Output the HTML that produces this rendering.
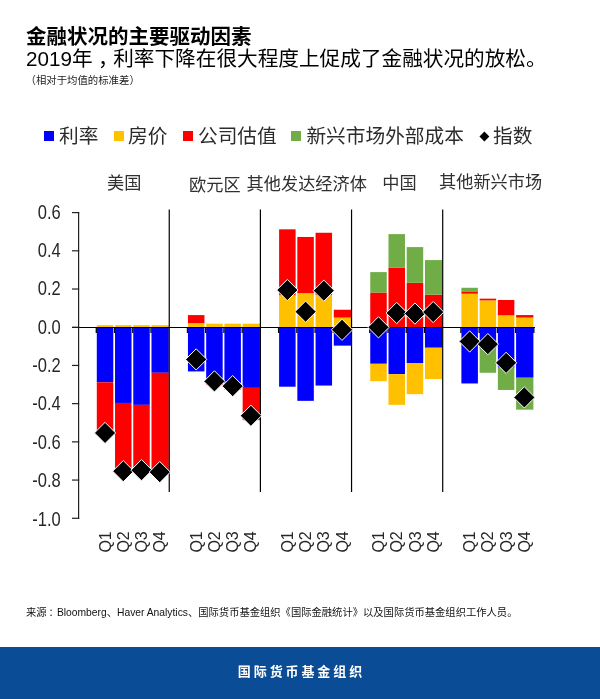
<!DOCTYPE html>
<html lang="zh"><head><meta charset="utf-8"><title>金融状况的主要驱动因素</title>
<style>
html,body{margin:0;padding:0;background:#fff;}
body{width:600px;height:699px;position:relative;overflow:hidden;font-family:"Liberation Sans","Noto Sans CJK SC",sans-serif;color:#000;}
.t{position:absolute;white-space:nowrap;line-height:1;}
#title{left:26px;top:27px;font-size:20.5px;font-weight:bold;}
#sub{left:26px;top:49px;font-size:20.65px;}
#note{left:25.5px;top:75.5px;font-size:10.4px;color:#222;}
.lg{font-size:19.7px;top:127px;color:#2c2c2c;}
.sq{position:absolute;top:131px;width:10px;height:10px;}
.gl{font-size:17.2px;color:#303030;}
#src{left:26px;top:608px;font-size:10.3px;color:#111;}
#foot{position:absolute;left:0;top:647.4px;width:600px;height:52px;background:#0a4c95;}
#foot span{position:absolute;left:0;width:600px;text-align:center;top:18px;line-height:1;color:#fff;font-weight:bold;font-size:13px;letter-spacing:2.9px;text-indent:2.9px;}
svg{position:absolute;left:0;top:0;}
svg text{font-family:"Liberation Sans",sans-serif;}
</style></head><body>
<div class="t" id="title">金融状况的主要驱动因素</div>
<div class="t" id="sub">2019年<span style="position:relative;left:5.5px;margin-right:0px">，</span>利率下降在很大程度上促成了金融状况的放松。</div>
<div class="t" id="note">（相对于均值的标准差）</div>

<div class="sq" style="left:44px;background:#0000FF"></div><div class="t lg" style="left:59px">利率</div>
<div class="sq" style="left:113.6px;background:#FFC000"></div><div class="t lg" style="left:128px">房价</div>
<div class="sq" style="left:183.2px;background:#FF0000"></div><div class="t lg" style="left:198px">公司估值</div>
<div class="sq" style="left:291.2px;background:#70AD47"></div><div class="t lg" style="left:306.4px">新兴市场外部成本</div>
<div class="sq" style="left:480.6px;top:132.8px;width:6.8px;height:6.8px;background:#000;transform:rotate(45deg)"></div><div class="t lg" style="left:493px">指数</div>

<div class="t gl" style="left:107px;top:175px">美国</div>
<div class="t gl" style="left:189px;top:177.3px">欧元区</div>
<div class="t gl" style="left:246.6px;top:176.4px">其他发达经济体</div>
<div class="t gl" style="left:382.2px;top:175.2px">中国</div>
<div class="t gl" style="left:439px;top:174px">其他新兴市场</div>

<svg width="600" height="699" viewBox="0 0 600 699">
<rect x="96.80" y="325.21" width="16.50" height="2.29" fill="#FFC000"/>
<rect x="96.80" y="327.50" width="16.50" height="54.82" fill="#0000FF"/>
<rect x="96.80" y="382.32" width="16.50" height="52.14" fill="#FF0000"/>
<rect x="115.03" y="325.21" width="16.50" height="2.29" fill="#FFC000"/>
<rect x="115.03" y="327.50" width="16.50" height="75.45" fill="#0000FF"/>
<rect x="115.03" y="402.94" width="16.50" height="69.72" fill="#FF0000"/>
<rect x="133.26" y="325.21" width="16.50" height="2.29" fill="#FFC000"/>
<rect x="133.26" y="327.50" width="16.50" height="77.36" fill="#0000FF"/>
<rect x="133.26" y="404.86" width="16.50" height="66.85" fill="#FF0000"/>
<rect x="151.49" y="325.21" width="17.30" height="2.29" fill="#FFC000"/>
<rect x="151.49" y="327.50" width="17.30" height="45.27" fill="#0000FF"/>
<rect x="151.49" y="372.77" width="17.30" height="100.85" fill="#FF0000"/>
<rect x="187.95" y="323.11" width="16.50" height="4.39" fill="#FFC000"/>
<rect x="187.95" y="315.08" width="16.50" height="8.02" fill="#FF0000"/>
<rect x="187.95" y="327.50" width="16.50" height="43.93" fill="#0000FF"/>
<rect x="206.18" y="323.68" width="16.50" height="3.82" fill="#FFC000"/>
<rect x="206.18" y="327.50" width="16.50" height="55.39" fill="#0000FF"/>
<rect x="206.18" y="382.89" width="16.50" height="1.91" fill="#FF0000"/>
<rect x="224.41" y="323.68" width="16.50" height="3.82" fill="#FFC000"/>
<rect x="224.41" y="327.50" width="16.50" height="60.16" fill="#0000FF"/>
<rect x="224.41" y="387.67" width="16.50" height="1.91" fill="#FF0000"/>
<rect x="242.64" y="323.68" width="17.30" height="3.82" fill="#FFC000"/>
<rect x="242.64" y="327.50" width="17.30" height="60.36" fill="#0000FF"/>
<rect x="242.64" y="387.86" width="17.30" height="32.28" fill="#FF0000"/>
<rect x="279.10" y="295.22" width="16.50" height="32.28" fill="#FFC000"/>
<rect x="279.10" y="229.33" width="16.50" height="65.89" fill="#FF0000"/>
<rect x="279.10" y="327.50" width="16.50" height="59.21" fill="#0000FF"/>
<rect x="297.33" y="293.12" width="16.50" height="34.38" fill="#FFC000"/>
<rect x="297.33" y="236.97" width="16.50" height="56.15" fill="#FF0000"/>
<rect x="297.33" y="327.50" width="16.50" height="73.34" fill="#0000FF"/>
<rect x="315.56" y="295.03" width="16.50" height="32.47" fill="#FFC000"/>
<rect x="315.56" y="232.76" width="16.50" height="62.27" fill="#FF0000"/>
<rect x="315.56" y="327.50" width="16.50" height="58.06" fill="#0000FF"/>
<rect x="333.79" y="317.57" width="17.30" height="9.93" fill="#FFC000"/>
<rect x="333.79" y="309.74" width="17.30" height="7.83" fill="#FF0000"/>
<rect x="333.79" y="327.50" width="17.30" height="18.14" fill="#0000FF"/>
<rect x="370.25" y="292.55" width="16.50" height="34.95" fill="#FF0000"/>
<rect x="370.25" y="272.11" width="16.50" height="20.44" fill="#70AD47"/>
<rect x="370.25" y="327.50" width="16.50" height="36.29" fill="#0000FF"/>
<rect x="370.25" y="363.79" width="16.50" height="17.38" fill="#FFC000"/>
<rect x="388.48" y="267.53" width="16.50" height="59.97" fill="#FF0000"/>
<rect x="388.48" y="234.10" width="16.50" height="33.42" fill="#70AD47"/>
<rect x="388.48" y="327.50" width="16.50" height="46.60" fill="#0000FF"/>
<rect x="388.48" y="374.10" width="16.50" height="30.75" fill="#FFC000"/>
<rect x="406.71" y="282.81" width="16.50" height="44.69" fill="#FF0000"/>
<rect x="406.71" y="247.09" width="16.50" height="35.72" fill="#70AD47"/>
<rect x="406.71" y="327.50" width="16.50" height="35.53" fill="#0000FF"/>
<rect x="406.71" y="363.03" width="16.50" height="31.13" fill="#FFC000"/>
<rect x="424.94" y="294.65" width="17.30" height="32.85" fill="#FF0000"/>
<rect x="424.94" y="260.08" width="17.30" height="34.57" fill="#70AD47"/>
<rect x="424.94" y="327.50" width="17.30" height="20.25" fill="#0000FF"/>
<rect x="424.94" y="347.75" width="17.30" height="31.32" fill="#FFC000"/>
<rect x="461.40" y="293.69" width="16.50" height="33.81" fill="#FFC000"/>
<rect x="461.40" y="291.40" width="16.50" height="2.29" fill="#FF0000"/>
<rect x="461.40" y="287.77" width="16.50" height="3.63" fill="#70AD47"/>
<rect x="461.40" y="327.50" width="16.50" height="55.96" fill="#0000FF"/>
<rect x="479.63" y="300.38" width="16.50" height="27.12" fill="#FFC000"/>
<rect x="479.63" y="298.66" width="16.50" height="1.72" fill="#FF0000"/>
<rect x="479.63" y="327.50" width="16.50" height="21.01" fill="#0000FF"/>
<rect x="479.63" y="348.51" width="16.50" height="24.26" fill="#70AD47"/>
<rect x="497.86" y="315.28" width="16.50" height="12.22" fill="#FFC000"/>
<rect x="497.86" y="300.00" width="16.50" height="15.28" fill="#FF0000"/>
<rect x="497.86" y="327.50" width="16.50" height="40.11" fill="#0000FF"/>
<rect x="497.86" y="367.61" width="16.50" height="22.35" fill="#70AD47"/>
<rect x="516.09" y="317.57" width="17.30" height="9.93" fill="#FFC000"/>
<rect x="516.09" y="315.08" width="17.30" height="2.48" fill="#FF0000"/>
<rect x="516.09" y="327.50" width="17.30" height="50.23" fill="#0000FF"/>
<rect x="516.09" y="377.73" width="17.30" height="31.90" fill="#70AD47"/>
<line x1="72" y1="327.5" x2="535" y2="327.5" stroke="#000" stroke-width="1.2"/>
<line x1="96.30" y1="327.5" x2="96.30" y2="333.0" stroke="#000" stroke-width="1.3"/>
<line x1="114.53" y1="327.5" x2="114.53" y2="333.0" stroke="#000" stroke-width="1.3"/>
<line x1="132.76" y1="327.5" x2="132.76" y2="333.0" stroke="#000" stroke-width="1.3"/>
<line x1="150.99" y1="327.5" x2="150.99" y2="333.0" stroke="#000" stroke-width="1.3"/>
<line x1="187.45" y1="327.5" x2="187.45" y2="333.0" stroke="#000" stroke-width="1.3"/>
<line x1="205.68" y1="327.5" x2="205.68" y2="333.0" stroke="#000" stroke-width="1.3"/>
<line x1="223.91" y1="327.5" x2="223.91" y2="333.0" stroke="#000" stroke-width="1.3"/>
<line x1="242.14" y1="327.5" x2="242.14" y2="333.0" stroke="#000" stroke-width="1.3"/>
<line x1="278.60" y1="327.5" x2="278.60" y2="333.0" stroke="#000" stroke-width="1.3"/>
<line x1="296.83" y1="327.5" x2="296.83" y2="333.0" stroke="#000" stroke-width="1.3"/>
<line x1="315.06" y1="327.5" x2="315.06" y2="333.0" stroke="#000" stroke-width="1.3"/>
<line x1="333.29" y1="327.5" x2="333.29" y2="333.0" stroke="#000" stroke-width="1.3"/>
<line x1="369.75" y1="327.5" x2="369.75" y2="333.0" stroke="#000" stroke-width="1.3"/>
<line x1="387.98" y1="327.5" x2="387.98" y2="333.0" stroke="#000" stroke-width="1.3"/>
<line x1="406.21" y1="327.5" x2="406.21" y2="333.0" stroke="#000" stroke-width="1.3"/>
<line x1="424.44" y1="327.5" x2="424.44" y2="333.0" stroke="#000" stroke-width="1.3"/>
<line x1="460.90" y1="327.5" x2="460.90" y2="333.0" stroke="#000" stroke-width="1.3"/>
<line x1="479.13" y1="327.5" x2="479.13" y2="333.0" stroke="#000" stroke-width="1.3"/>
<line x1="497.36" y1="327.5" x2="497.36" y2="333.0" stroke="#000" stroke-width="1.3"/>
<line x1="515.59" y1="327.5" x2="515.59" y2="333.0" stroke="#000" stroke-width="1.3"/>
<line x1="533.82" y1="327.5" x2="533.82" y2="333.0" stroke="#000" stroke-width="1.3"/>
<line x1="169.25" y1="209.5" x2="169.25" y2="492" stroke="#000" stroke-width="1.2"/>
<line x1="260.40" y1="209.5" x2="260.40" y2="492" stroke="#000" stroke-width="1.2"/>
<line x1="351.55" y1="209.5" x2="351.55" y2="492" stroke="#000" stroke-width="1.2"/>
<line x1="442.70" y1="209.5" x2="442.70" y2="492" stroke="#000" stroke-width="1.2"/>
<line x1="78.6" y1="212" x2="78.6" y2="518.9" stroke="#222" stroke-width="1.2"/>
<line x1="72" y1="212.60" x2="79.2" y2="212.60" stroke="#222" stroke-width="1.2"/>
<text transform="translate(60.8,218.50) scale(0.835,1)" text-anchor="end" font-size="19.8" fill="#262626">0.6</text>
<line x1="72" y1="250.81" x2="79.2" y2="250.81" stroke="#222" stroke-width="1.2"/>
<text transform="translate(60.8,256.88) scale(0.835,1)" text-anchor="end" font-size="19.8" fill="#262626">0.4</text>
<line x1="72" y1="289.02" x2="79.2" y2="289.02" stroke="#222" stroke-width="1.2"/>
<text transform="translate(60.8,295.25) scale(0.835,1)" text-anchor="end" font-size="19.8" fill="#262626">0.2</text>
<line x1="72" y1="327.23" x2="79.2" y2="327.23" stroke="#222" stroke-width="1.2"/>
<text transform="translate(60.8,333.62) scale(0.835,1)" text-anchor="end" font-size="19.8" fill="#262626">0.0</text>
<line x1="72" y1="365.44" x2="79.2" y2="365.44" stroke="#222" stroke-width="1.2"/>
<text transform="translate(60.8,372.00) scale(0.835,1)" text-anchor="end" font-size="19.8" fill="#262626">-0.2</text>
<line x1="72" y1="403.65" x2="79.2" y2="403.65" stroke="#222" stroke-width="1.2"/>
<text transform="translate(60.8,410.38) scale(0.835,1)" text-anchor="end" font-size="19.8" fill="#262626">-0.4</text>
<line x1="72" y1="441.86" x2="79.2" y2="441.86" stroke="#222" stroke-width="1.2"/>
<text transform="translate(60.8,448.75) scale(0.835,1)" text-anchor="end" font-size="19.8" fill="#262626">-0.6</text>
<line x1="72" y1="480.07" x2="79.2" y2="480.07" stroke="#222" stroke-width="1.2"/>
<text transform="translate(60.8,487.12) scale(0.835,1)" text-anchor="end" font-size="19.8" fill="#262626">-0.8</text>
<line x1="72" y1="518.28" x2="79.2" y2="518.28" stroke="#222" stroke-width="1.2"/>
<text transform="translate(60.8,525.50) scale(0.835,1)" text-anchor="end" font-size="19.8" fill="#262626">-1.0</text>
<path d="M105.05 422.35 L115.65 432.95 L105.05 443.55 L94.45 432.95 Z" fill="#000" stroke="#fff" stroke-width="1"/>
<path d="M123.28 460.55 L133.88 471.15 L123.28 481.75 L112.68 471.15 Z" fill="#000" stroke="#fff" stroke-width="1"/>
<path d="M141.51 459.59 L152.11 470.19 L141.51 480.79 L130.91 470.19 Z" fill="#000" stroke="#fff" stroke-width="1"/>
<path d="M159.74 461.50 L170.34 472.11 L159.74 482.71 L149.14 472.11 Z" fill="#000" stroke="#fff" stroke-width="1"/>
<path d="M196.20 348.81 L206.80 359.41 L196.20 370.01 L185.60 359.41 Z" fill="#000" stroke="#fff" stroke-width="1"/>
<path d="M214.43 370.78 L225.03 381.38 L214.43 391.98 L203.83 381.38 Z" fill="#000" stroke="#fff" stroke-width="1"/>
<path d="M232.66 375.55 L243.26 386.15 L232.66 396.75 L222.06 386.15 Z" fill="#000" stroke="#fff" stroke-width="1"/>
<path d="M250.89 405.16 L261.49 415.76 L250.89 426.36 L240.29 415.76 Z" fill="#000" stroke="#fff" stroke-width="1"/>
<path d="M287.35 279.48 L297.95 290.08 L287.35 300.68 L276.75 290.08 Z" fill="#000" stroke="#fff" stroke-width="1"/>
<path d="M305.58 301.06 L316.18 311.66 L305.58 322.26 L294.98 311.66 Z" fill="#000" stroke="#fff" stroke-width="1"/>
<path d="M323.81 280.05 L334.41 290.65 L323.81 301.25 L313.21 290.65 Z" fill="#000" stroke="#fff" stroke-width="1"/>
<path d="M342.04 319.21 L352.64 329.81 L342.04 340.41 L331.44 329.81 Z" fill="#000" stroke="#fff" stroke-width="1"/>
<path d="M378.50 316.73 L389.10 327.33 L378.50 337.93 L367.90 327.33 Z" fill="#000" stroke="#fff" stroke-width="1"/>
<path d="M396.73 302.40 L407.33 313.00 L396.73 323.60 L386.13 313.00 Z" fill="#000" stroke="#fff" stroke-width="1"/>
<path d="M414.96 302.97 L425.56 313.57 L414.96 324.18 L404.36 313.57 Z" fill="#000" stroke="#fff" stroke-width="1"/>
<path d="M433.19 301.45 L443.79 312.05 L433.19 322.65 L422.59 312.05 Z" fill="#000" stroke="#fff" stroke-width="1"/>
<path d="M469.65 330.86 L480.25 341.46 L469.65 352.06 L459.05 341.46 Z" fill="#000" stroke="#fff" stroke-width="1"/>
<path d="M487.88 333.53 L498.48 344.13 L487.88 354.74 L477.28 344.13 Z" fill="#000" stroke="#fff" stroke-width="1"/>
<path d="M506.11 352.25 L516.71 362.85 L506.11 373.45 L495.51 362.85 Z" fill="#000" stroke="#fff" stroke-width="1"/>
<path d="M524.34 386.82 L534.94 397.42 L524.34 408.02 L513.74 397.42 Z" fill="#000" stroke="#fff" stroke-width="1"/>
<text transform="translate(110.65,552.6) rotate(-90)" font-size="16" fill="#262626">Q1</text>
<text transform="translate(128.88,552.6) rotate(-90)" font-size="16" fill="#262626">Q2</text>
<text transform="translate(147.11,552.6) rotate(-90)" font-size="16" fill="#262626">Q3</text>
<text transform="translate(165.34,552.6) rotate(-90)" font-size="16" fill="#262626">Q4</text>
<text transform="translate(201.80,552.6) rotate(-90)" font-size="16" fill="#262626">Q1</text>
<text transform="translate(220.03,552.6) rotate(-90)" font-size="16" fill="#262626">Q2</text>
<text transform="translate(238.26,552.6) rotate(-90)" font-size="16" fill="#262626">Q3</text>
<text transform="translate(256.49,552.6) rotate(-90)" font-size="16" fill="#262626">Q4</text>
<text transform="translate(292.95,552.6) rotate(-90)" font-size="16" fill="#262626">Q1</text>
<text transform="translate(311.18,552.6) rotate(-90)" font-size="16" fill="#262626">Q2</text>
<text transform="translate(329.41,552.6) rotate(-90)" font-size="16" fill="#262626">Q3</text>
<text transform="translate(347.64,552.6) rotate(-90)" font-size="16" fill="#262626">Q4</text>
<text transform="translate(384.10,552.6) rotate(-90)" font-size="16" fill="#262626">Q1</text>
<text transform="translate(402.33,552.6) rotate(-90)" font-size="16" fill="#262626">Q2</text>
<text transform="translate(420.56,552.6) rotate(-90)" font-size="16" fill="#262626">Q3</text>
<text transform="translate(438.79,552.6) rotate(-90)" font-size="16" fill="#262626">Q4</text>
<text transform="translate(475.25,552.6) rotate(-90)" font-size="16" fill="#262626">Q1</text>
<text transform="translate(493.48,552.6) rotate(-90)" font-size="16" fill="#262626">Q2</text>
<text transform="translate(511.71,552.6) rotate(-90)" font-size="16" fill="#262626">Q3</text>
<text transform="translate(529.94,552.6) rotate(-90)" font-size="16" fill="#262626">Q4</text>
</svg>

<div class="t" id="src">来源<span style="position:relative;left:2px">：</span>Bloomberg、Haver Analytics、国际货币基金组织《国际金融统计》以及国际货币基金组织工作人员。</div>
<div id="foot"><span>国际货币基金组织</span></div>
</body></html>
